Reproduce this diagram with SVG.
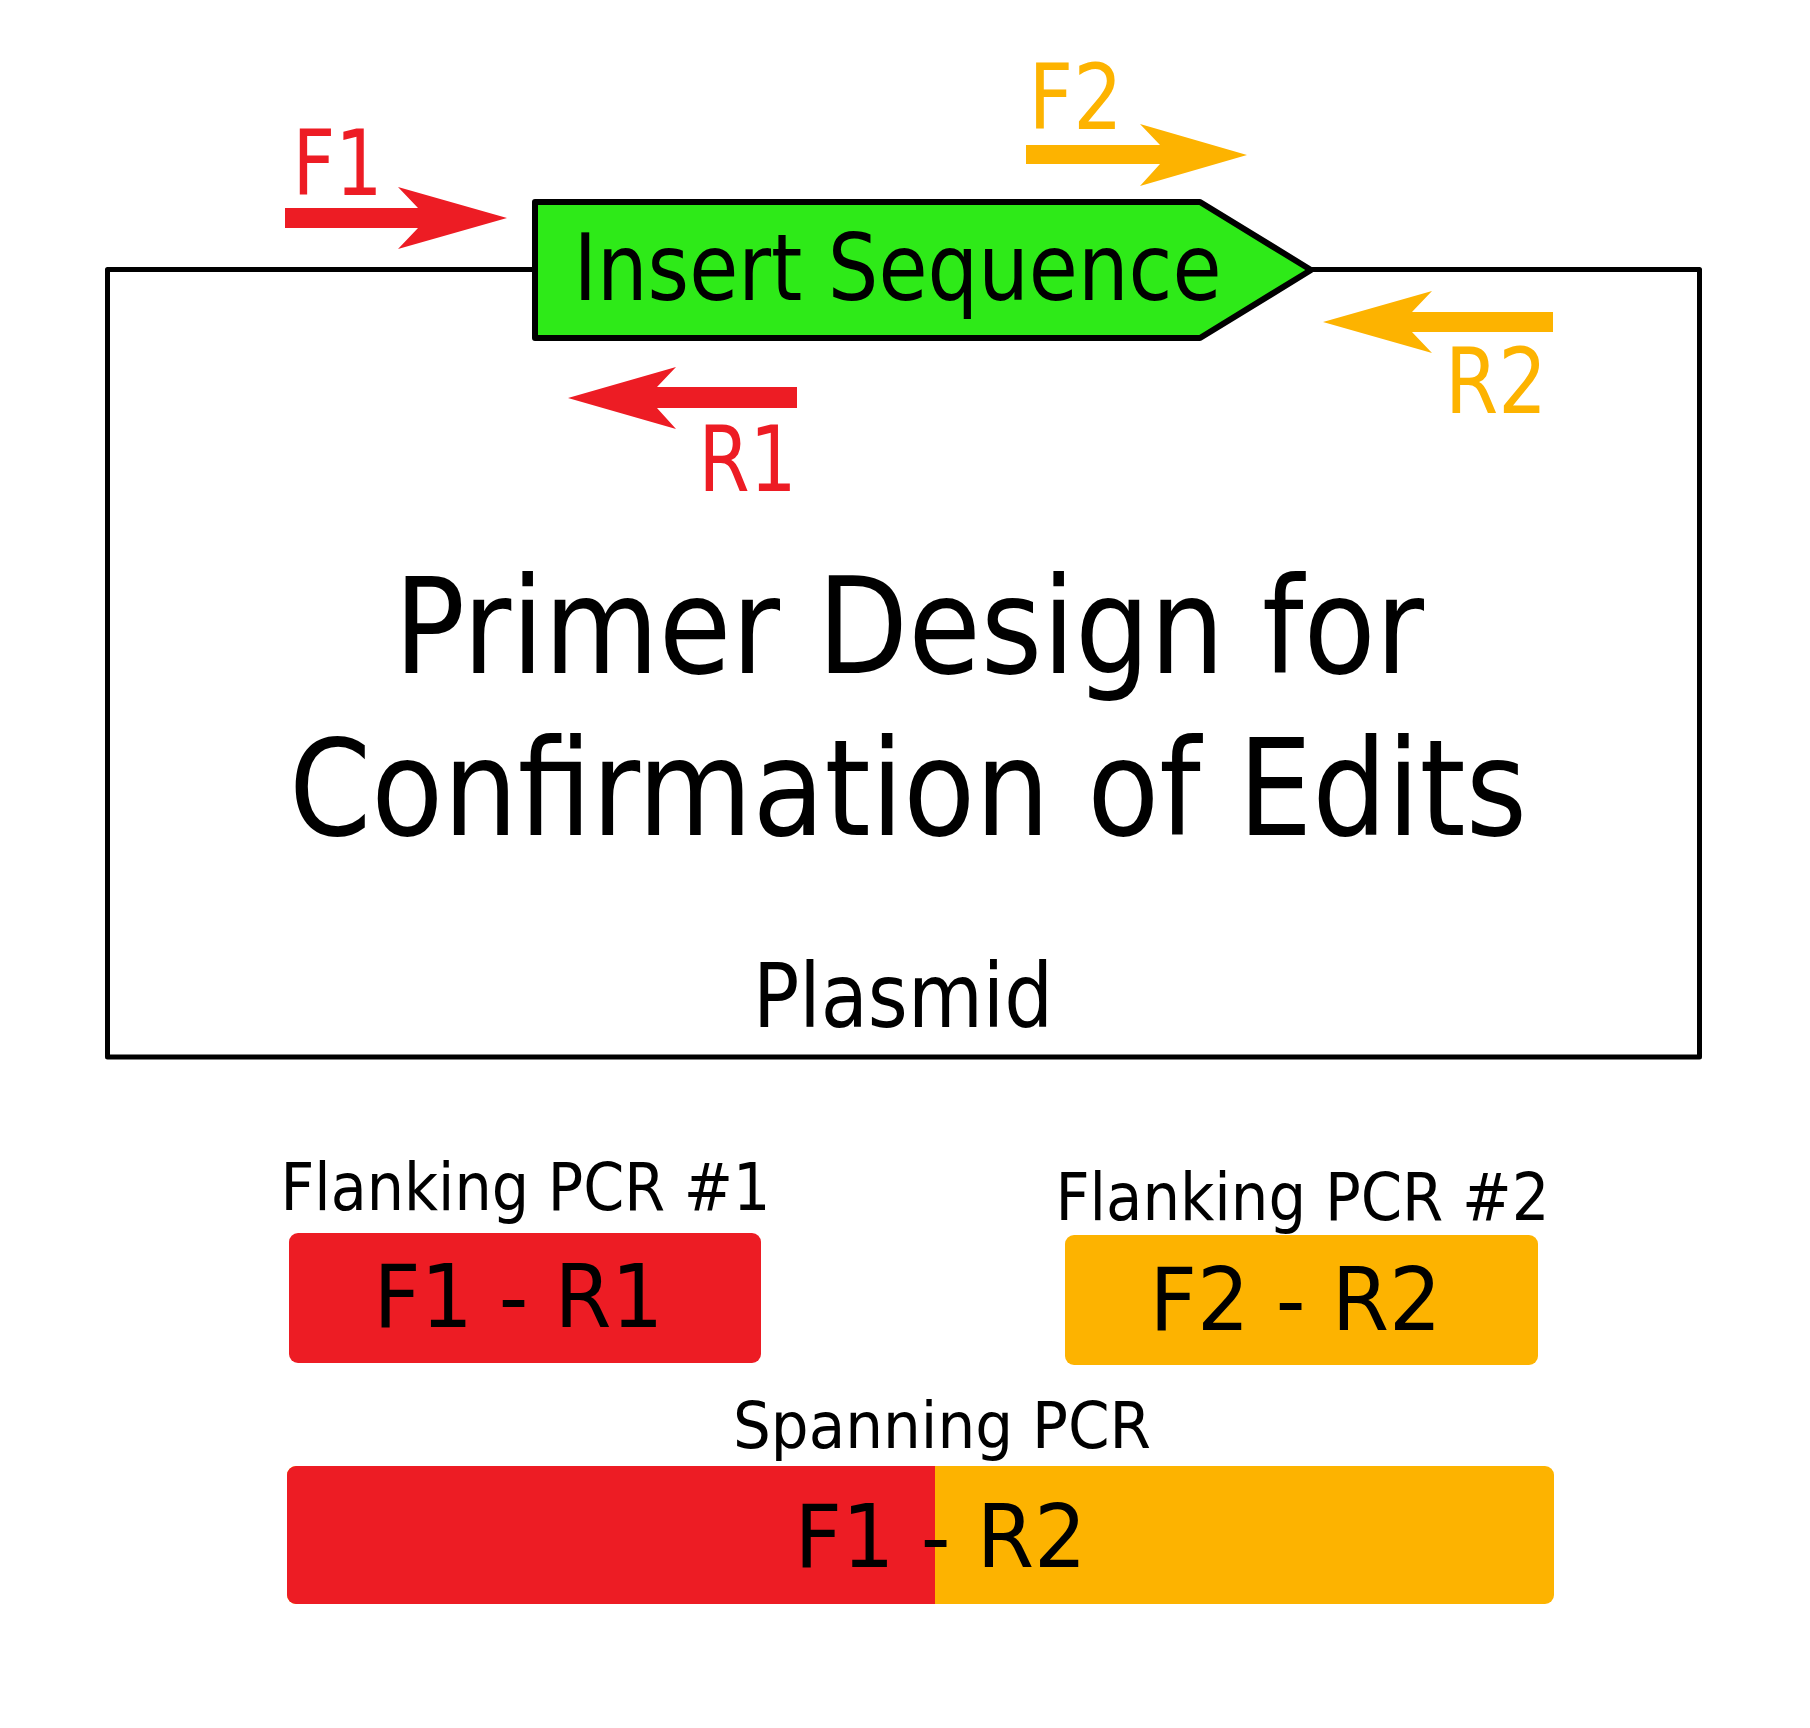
<svg xmlns="http://www.w3.org/2000/svg" width="1810" height="1728" viewBox="0 0 1810 1728">
<style>
text{font-family:"DejaVu Sans Condensed","DejaVu Sans","Liberation Sans",sans-serif;font-stretch:condensed;text-anchor:middle}
.blk{fill:#000}
.red{fill:#ED1C24}
.org{fill:#FDB300}
.lbl{font-size:90px}
.big{font-size:134px}
.mid{font-size:88px}
.sm{font-size:66px}
</style>
<rect width="1810" height="1728" fill="#fff"/>
<g id="plasmid">
<rect x="107.5" y="269.5" width="1592" height="787.5" fill="none" stroke="#000" stroke-width="5" stroke-linejoin="round"/>
<text class="blk" x="903" y="1027" font-size="89" textLength="300" lengthAdjust="spacingAndGlyphs">Plasmid</text>
</g>
<g id="insert">
<path d="M535,202 L1200,202 L1311,270 L1200,338 L535,338 Z" fill="#2EEA18" stroke="#000" stroke-width="6" stroke-linejoin="round"/>
<text class="blk" x="897.5" y="300" font-size="92" textLength="648" lengthAdjust="spacingAndGlyphs">Insert Sequence</text>
</g>
<g id="title">
<text class="blk big" x="909" y="673" textLength="1030" lengthAdjust="spacingAndGlyphs">Primer Design for</text>
<text class="blk big" x="908" y="835" textLength="1238" lengthAdjust="spacingAndGlyphs">Confirmation of Edits</text>
</g>
<g id="connectors">
<polygon id="F1-arrow" class="red" points="285,208 418,208 398,187 507,218 398,249 418,228 285,228"/>
<polygon id="R1-arrow" class="red" points="797,387 657,387 676,367 568,398 676,429 657,408 797,408"/>
<polygon id="F2-arrow" class="org" points="1026,145 1160,145 1140,124 1247,155 1140,186 1160,164 1026,164"/>
<polygon id="R2-arrow" class="org" points="1553,312 1412,312 1432,291 1323,322 1432,353 1412,332 1553,332"/>
</g>
<g id="F1"><text class="red lbl" x="337.5" y="195" textLength="90" lengthAdjust="spacingAndGlyphs">F1</text></g>
<g id="R1"><text class="red lbl" x="747.5" y="491" textLength="98" lengthAdjust="spacingAndGlyphs">R1</text></g>
<g id="F2"><text class="org lbl" x="1075.5" y="129" textLength="94" lengthAdjust="spacingAndGlyphs">F2</text></g>
<g id="R2"><text class="org lbl" x="1496" y="413" textLength="102" lengthAdjust="spacingAndGlyphs">R2</text></g>
<g id="pcr1">
<text class="blk sm" x="525.5" y="1210" textLength="490" lengthAdjust="spacingAndGlyphs">Flanking PCR #1</text>
<rect class="red" x="289" y="1233" width="472" height="130" rx="9"/>
<text class="blk mid" x="518.5" y="1327" textLength="290" lengthAdjust="spacingAndGlyphs">F1 - R1</text>
</g>
<g id="pcr2">
<text class="blk sm" x="1302.5" y="1220" textLength="494" lengthAdjust="spacingAndGlyphs">Flanking PCR #2</text>
<rect class="org" x="1065" y="1235" width="473" height="130" rx="9"/>
<text class="blk mid" x="1295.5" y="1330" textLength="292" lengthAdjust="spacingAndGlyphs">F2 - R2</text>
</g>
<g id="spanning">
<text class="blk" x="942" y="1448" font-size="64" textLength="418" lengthAdjust="spacingAndGlyphs">Spanning PCR</text>
<rect class="org" x="287" y="1466" width="1267" height="138" rx="9"/>
<path class="red" d="M296,1466 H935 V1604 H296 A9,9 0 0 1 287,1595 V1475 A9,9 0 0 1 296,1466 Z"/>
<text class="blk mid" x="940.5" y="1567" textLength="292" lengthAdjust="spacingAndGlyphs">F1 - R2</text>
</g>
</svg>
